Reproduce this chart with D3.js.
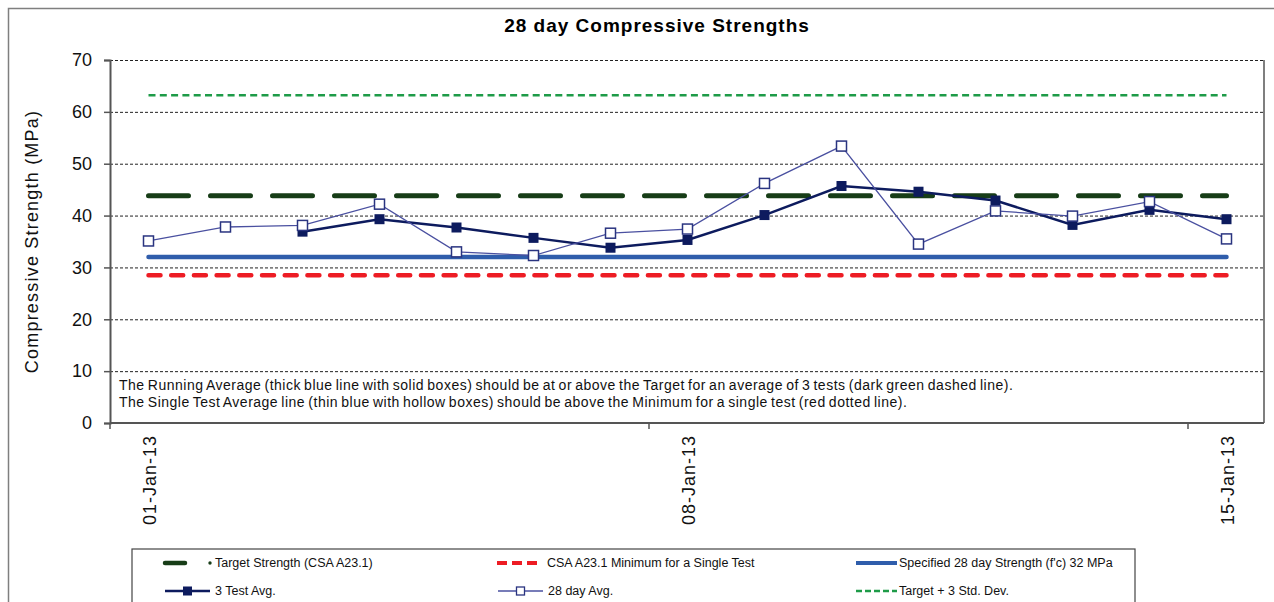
<!DOCTYPE html>
<html>
<head>
<meta charset="utf-8">
<script src="https://cdn.jsdelivr.net/npm/d3@7"></script>
<style>
  body { margin: 0; background: #fff; }
  svg { font-family: "Liberation Sans", Arial, sans-serif; }
</style>
</head>
<body>
<svg></svg>
<script>
const dates = ["01-Jan-13","02-Jan-13","03-Jan-13","04-Jan-13","05-Jan-13","06-Jan-13","07-Jan-13",
  "08-Jan-13","09-Jan-13","10-Jan-13","11-Jan-13","12-Jan-13","13-Jan-13","14-Jan-13","15-Jan-13"];
const shownDates = ["01-Jan-13", "08-Jan-13", "15-Jan-13"];

// single test (28 day) averages
const dayAvg = [35.1, 37.8, 38.1, 42.2, 33.0, 32.3, 36.6, 37.4, 46.2, 53.4, 34.5, 40.9, 39.9, 42.7, 35.5];
// running average of 3 tests, starts at 3rd test
const testAvg3 = [null, null, 36.9, 39.3, 37.7, 35.7, 33.8, 35.3, 40.1, 45.7, 44.6, 42.9, 38.2, 41.1, 39.3];

const target = 43.8;
const minimum = 28.5;
const specified = 32;
const target3sd = 63.2;

const yTicks = [0, 10, 20, 30, 40, 50, 60, 70];

const width = 1274, height = 602;
const svg = d3.select("svg").attr("width", width).attr("height", height);

const mLeft = 110, mRight = 1265, mTop = 60, mBottom = 423;

const x = d3.scaleBand().domain(dates).range([mLeft, mRight]).padding(0);
const y = d3.scaleLinear().domain([0, 70]).range([mBottom, mTop]);
const cx = d => x(d) + x.bandwidth() / 2;

// outer frame
svg.append("rect")
  .attr("x", 8.5).attr("y", 8.5).attr("width", 1290).attr("height", 620)
  .attr("fill", "none").attr("stroke", "#7f7f7f").attr("stroke-width", 1.5);

// title
svg.append("text")
  .attr("x", 657).attr("y", 32)
  .attr("text-anchor", "middle")
  .style("font-size", "19px").style("font-weight", "bold")
  .style("letter-spacing", "1px")
  .text("28 day Compressive  Strengths");

// gridlines
svg.append("g").selectAll("line")
  .data(yTicks.filter(t => t > 0))
  .enter().append("line")
    .attr("x1", mLeft).attr("x2", mRight - 1)
    .attr("y1", d => y(d) + 0.5).attr("y2", d => y(d) + 0.5)
    .attr("stroke", "#222").attr("stroke-width", 1)
    .attr("stroke-dasharray", "3,2");

// y axis
const yAxis = svg.append("g")
  .attr("transform", `translate(${mLeft},0)`)
  .call(d3.axisLeft(y).tickValues(yTicks).tickSize(6).tickPadding(12));
yAxis.select(".domain").attr("stroke", "#555").attr("stroke-width", 2);
yAxis.selectAll(".tick line").attr("stroke", "#555").attr("stroke-width", 1.5);
yAxis.selectAll("text").style("font-size", "18px").attr("fill", "#111");

// right border + bottom axis line
svg.append("line").attr("x1", mRight - 1).attr("x2", mRight - 1).attr("y1", mTop).attr("y2", mBottom)
  .attr("stroke", "#555").attr("stroke-width", 1.5);
svg.append("line").attr("x1", mLeft).attr("x2", mRight - 1).attr("y1", mBottom).attr("y2", mBottom)
  .attr("stroke", "#555").attr("stroke-width", 2);

// x ticks at category boundaries, labels at category centres
svg.append("g").selectAll("line")
  .data(shownDates)
  .enter().append("line")
    .attr("x1", d => x(d)).attr("x2", d => x(d))
    .attr("y1", mBottom).attr("y2", mBottom + 6)
    .attr("stroke", "#555").attr("stroke-width", 1.5);
svg.append("g").selectAll("text")
  .data(shownDates)
  .enter().append("text")
    .attr("transform", d => `translate(${cx(d) + 7},${mBottom + 12}) rotate(-90)`)
    .attr("text-anchor", "end")
    .style("font-size", "18px").style("letter-spacing", "1px").attr("fill", "#111")
    .text(d => d);

// y axis title
svg.append("text")
  .attr("transform", `translate(38,${(mTop + mBottom) / 2}) rotate(-90)`)
  .attr("text-anchor", "middle")
  .style("font-size", "18px").style("letter-spacing", "1.2px").attr("fill", "#111")
  .text("Compressive Strength (MPa)");

// constant reference lines
function hline(v, color, w, dash, cap) {
  svg.append("line")
    .attr("x1", cx(dates[0])).attr("x2", cx(dates[dates.length - 1]))
    .attr("y1", y(v)).attr("y2", y(v))
    .attr("stroke", color).attr("stroke-width", w)
    .attr("stroke-dasharray", dash).attr("stroke-linecap", cap);
}
hline(target3sd, "#1e9b48", 2.5, "7,4.3", "butt");
hline(specified, "#2f5dab", 4.5, null, "round");
hline(minimum, "#ed1c24", 4.5, "12,10.7", "round");
hline(target, "#173d17", 5, "40,22", "round");

const line = d3.line().defined(d => d.v != null).x(d => cx(d.d)).y(d => y(d.v));
const dayData = dates.map((d, i) => ({d: d, v: dayAvg[i]}));
const avgData = dates.map((d, i) => ({d: d, v: testAvg3[i]}));

// 3 test avg (thick, solid boxes)
svg.append("path").datum(avgData)
  .attr("d", line).attr("fill", "none")
  .attr("stroke", "#0d1b5e").attr("stroke-width", 2.5);
svg.append("g").selectAll("rect")
  .data(avgData.filter(d => d.v != null))
  .enter().append("rect")
    .attr("x", d => cx(d.d) - 5).attr("y", d => y(d.v) - 5)
    .attr("width", 10).attr("height", 10)
    .attr("fill", "#0d1b5e");

// 28 day avg (thin, hollow boxes)
svg.append("path").datum(dayData)
  .attr("d", line).attr("fill", "none")
  .attr("stroke", "#4a50a0").attr("stroke-width", 1.3);
svg.append("g").selectAll("rect")
  .data(dayData)
  .enter().append("rect")
    .attr("x", d => cx(d.d) - 5).attr("y", d => y(d.v) - 5)
    .attr("width", 10).attr("height", 10)
    .attr("fill", "#fff").attr("stroke", "#2a3480").attr("stroke-width", 1.5);

// note inside plot
const notes = [
  "The Running Average (thick blue line with solid boxes) should be at or above the Target for an average of 3 tests (dark green dashed line).",
  "The Single Test Average line (thin blue with hollow boxes) should be above the Minimum for a single test (red dotted line)."
];
svg.append("g").selectAll("text")
  .data(notes)
  .enter().append("text")
    .attr("x", 119).attr("y", (d, i) => 390 + i * 17)
    .style("font-size", "14px").style("letter-spacing", "0.5px").style("word-spacing", "-1.2px")
    .attr("fill", "#111")
    .text(d => d);

// legend
const lg = svg.append("g");
lg.append("rect").attr("x", 132).attr("y", 549).attr("width", 1003).attr("height", 80)
  .attr("fill", "#fff").attr("stroke", "#444").attr("stroke-width", 1.2);

const row1 = 563, row2 = 591;
lg.append("line").attr("x1", 165).attr("x2", 185).attr("y1", row1).attr("y2", row1)
  .attr("stroke", "#173d17").attr("stroke-width", 4.5).attr("stroke-linecap", "round");
lg.append("circle").attr("cx", 210).attr("cy", row1).attr("r", 1.7).attr("fill", "#173d17");
lg.append("line").attr("x1", 497).attr("x2", 538).attr("y1", row1).attr("y2", row1)
  .attr("stroke", "#ed1c24").attr("stroke-width", 4).attr("stroke-dasharray", "10,5");
lg.append("line").attr("x1", 856).attr("x2", 897).attr("y1", row1).attr("y2", row1)
  .attr("stroke", "#2f5dab").attr("stroke-width", 4);

lg.append("line").attr("x1", 165).attr("x2", 210).attr("y1", row2).attr("y2", row2)
  .attr("stroke", "#0d1b5e").attr("stroke-width", 2.5);
lg.append("rect").attr("x", 183).attr("y", row2 - 4.5).attr("width", 9).attr("height", 9).attr("fill", "#0d1b5e");
lg.append("line").attr("x1", 498).attr("x2", 543).attr("y1", row2).attr("y2", row2)
  .attr("stroke", "#4a50a0").attr("stroke-width", 1.3);
lg.append("rect").attr("x", 516.5).attr("y", row2 - 4).attr("width", 8).attr("height", 8)
  .attr("fill", "#fff").attr("stroke", "#2a3480").attr("stroke-width", 1.3);
lg.append("line").attr("x1", 856).attr("x2", 897).attr("y1", row2).attr("y2", row2)
  .attr("stroke", "#1e9b48").attr("stroke-width", 2.5).attr("stroke-dasharray", "6,3");

const legendTexts = [
  {x: 215, y: row1, t: "Target Strength (CSA A23.1)"},
  {x: 547, y: row1, t: "CSA A23.1 Minimum for a Single Test"},
  {x: 899, y: row1, t: "Specified 28 day Strength (f'c) 32 MPa"},
  {x: 215, y: row2, t: "3 Test Avg."},
  {x: 548, y: row2, t: "28 day Avg."},
  {x: 899, y: row2, t: "Target + 3 Std. Dev."}
];
lg.selectAll("text.lt")
  .data(legendTexts)
  .enter().append("text")
    .attr("class", "lt")
    .attr("x", d => d.x).attr("y", d => d.y + 4)
    .style("font-size", "12.5px").attr("fill", "#111")
    .text(d => d.t);
</script>
</body>
</html>
